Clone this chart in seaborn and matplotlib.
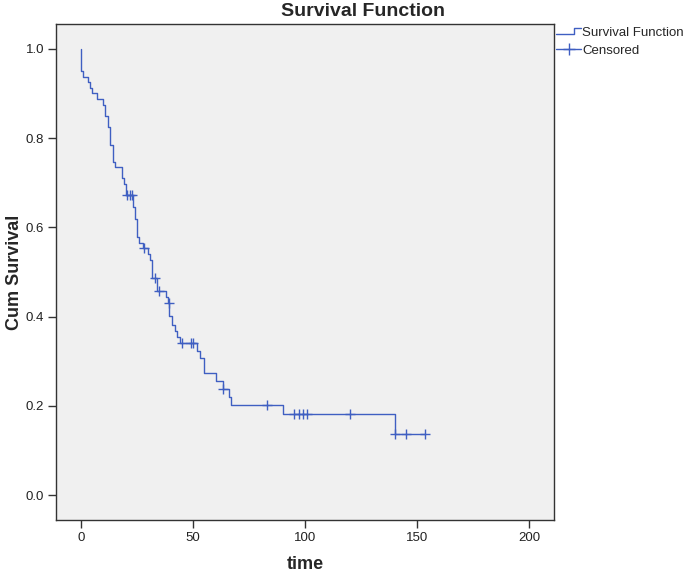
import matplotlib
matplotlib.use('Agg')
import matplotlib.pyplot as plt
import seaborn as sns
import pandas as pd
from matplotlib.lines import Line2D
from matplotlib.legend_handler import HandlerLine2D

# step points of the Kaplan-Meier curve (time, cumulative survival after each event)
event_time = [0, 0, 1.0, 3.0, 4.0, 5.0, 7.0, 10.0, 10.9, 11.9, 13.1, 14.2, 15.2,
              18.2, 19.2, 20.1, 23.0, 23.9, 24.9, 26.0, 27.8, 29.7, 31.0, 31.7,
              33.8, 37.9, 39.0, 39.4, 40.8, 42.0, 43.0, 44.2, 51.6, 53.3, 54.9,
              60.1, 63.2, 66.1, 67.0, 90.0, 140.2, 153.6]
event_surv = [1.0, 0.951, 0.938, 0.925, 0.913, 0.901, 0.887, 0.874, 0.850, 0.824,
              0.785, 0.747, 0.736, 0.710, 0.697, 0.673, 0.645, 0.618, 0.579, 0.566,
              0.553, 0.540, 0.526, 0.486, 0.458, 0.444, 0.430, 0.401, 0.382, 0.368,
              0.354, 0.340, 0.322, 0.307, 0.274, 0.256, 0.238, 0.220, 0.201, 0.181,
              0.136, 0.136]

# censored observations
cens_time = [20.7, 21.9, 22.6, 28.3, 32.8, 34.6, 39.2, 44.9, 49.1, 50.0, 63.6,
             83.2, 95.2, 97.2, 99.1, 101.0, 120.1, 140.4, 145.1, 153.6]
cens_surv = [0.673, 0.673, 0.673, 0.553, 0.486, 0.458, 0.430, 0.340, 0.340, 0.340,
             0.238, 0.201, 0.181, 0.181, 0.181, 0.181, 0.181, 0.136, 0.136, 0.136]

y_ticks = [0.0, 0.2, 0.4, 0.6, 0.8, 1.0]
x_ticks = [0, 50, 100, 150, 200]

curve = pd.DataFrame({'time': event_time, 'surv': event_surv})
cens = pd.DataFrame({'time': cens_time, 'surv': cens_surv})

sns.set_style('white')
plt.rcParams['font.family'] = ['Liberation Sans', 'DejaVu Sans']

blue = '#3F5FC2'

fig = plt.figure(figsize=(6.85, 5.73), dpi=100)
ax = fig.add_axes([56 / 685, 53 / 573, 498 / 685, 496 / 573])
ax.set_facecolor('#F0F0F0')

sns.lineplot(data=curve, x='time', y='surv', estimator=None, sort=False,
             drawstyle='steps-post', color=blue, linewidth=1.0, ax=ax)
sns.scatterplot(data=cens, x='time', y='surv', marker='+', s=60, color=blue,
                linewidth=1.0, ax=ax)

ax.set_xlim(-11.2, 211.2)
ax.set_ylim(-0.056, 1.056)
ax.set_xticks(x_ticks)
ax.set_yticks(y_ticks)
ax.set_yticklabels([f'{v:.1f}' for v in y_ticks])
ax.tick_params(axis='both', direction='out', length=6, width=1, color='#333333',
               labelsize=9.5, labelcolor='#222222', pad=2.5,
               bottom=True, left=True)
for s in ax.spines.values():
    s.set_color('#333333')
    s.set_linewidth(1.0)

ax.set_xlabel('time', fontsize=13, fontweight='bold', labelpad=9)
ax.set_ylabel('Cum Survival', fontsize=13, fontweight='bold', labelpad=2)
fig.text(363 / 685, 1 - 11 / 573, 'Survival Function', fontsize=14,
         fontweight='bold', ha='center', va='center')


class StepHandler(HandlerLine2D):
    def create_artists(self, legend, orig_handle, xdescent, ydescent, width,
                       height, fontsize, trans):
        x0 = -xdescent
        y0 = -ydescent
        xs = [x0, x0 + width * 0.72, x0 + width * 0.72, x0 + width]
        ys = [y0 + height * 0.2, y0 + height * 0.2, y0 + height * 0.85, y0 + height * 0.85]
        ln = Line2D(xs, ys, color=orig_handle.get_color(),
                    linewidth=orig_handle.get_linewidth(), transform=trans)
        return [ln]


h_surv = Line2D([], [], color=blue, linewidth=1.0)
h_cens = Line2D([], [], color=blue, linewidth=1.0, marker='+', markersize=9)
ax.legend([h_surv, h_cens], ['Survival Function', 'Censored'],
          handler_map={h_surv: StepHandler()}, loc='upper left',
          bbox_to_anchor=(556 / 685, 1 - 27 / 573), bbox_transform=fig.transFigure,
          frameon=False, fontsize=9.5, handlelength=1.9, handletextpad=0.1,
          labelspacing=0.4, borderaxespad=0, borderpad=0)

fig.savefig('out.png', dpi=100)
